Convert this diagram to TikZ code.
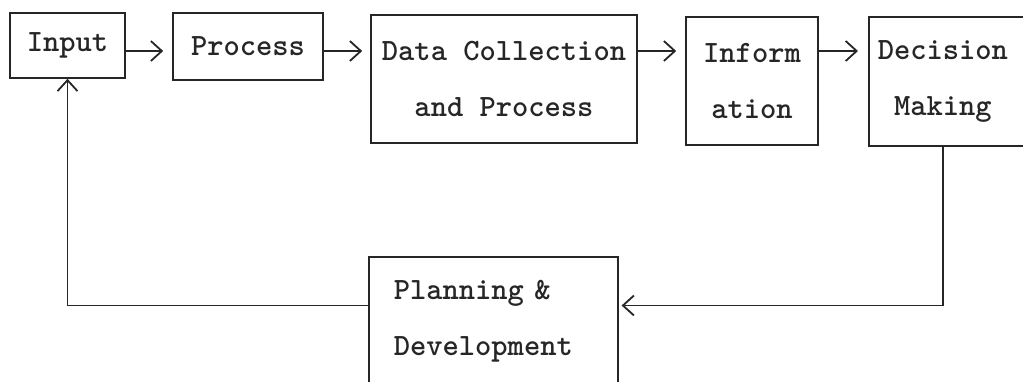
\documentclass[tikz,border=0pt]{standalone}
\usepackage{xcolor}
\usepackage{tikz}
\usetikzlibrary{arrows.meta}

\begin{document}
\begin{tikzpicture}[x=1pt, y=-1pt, line width=1.6pt, black!85,
    box/.style={rectangle, draw, align=center, inner sep=0pt, font=\ttfamily\bfseries\fontsize{31}{56}\selectfont},
    barb/.style={-{Straight Barb[length=11pt, width=20pt, line width=1.8pt]}}]
        \useasboundingbox (0,0) rectangle (1023,381);
        \node at (67.5,45.5) [box, minimum width=115pt, minimum height=65pt] (input) {Input};
        \node at (248,46.5) [box, minimum width=150pt, minimum height=67pt] (process) {Process};
        \node at (504,79) [box, minimum width=266pt, minimum height=128pt] (collect) {Data Collection\\and Process};
        \node at (752,81) [box, minimum width=132pt, minimum height=128pt] (info) {Inform\\ation};
        \node at (868,81.5) [box, anchor=west, align=left, inner xsep=9pt, text width=160pt, minimum height=129pt] (decide) {Decision\\\phantom{M}Making};
        \node at (368,321) [box, anchor=west, align=left, inner xsep=25pt, text width=199pt, minimum height=128pt] (plan) {Planning \&\\Development};
        \coordinate (lane) at (0,51);
        \coordinate (drop) at (943,0);
        \coordinate (loop) at (0,305.5);
        \draw (input.east |- lane)[barb, shorten >=9pt] -- (process.west |- lane);
        \draw (process.east |- lane)[barb, shorten >=8pt] -- (collect.west |- lane);
        \draw (collect.east |- lane)[barb, shorten >=9pt] -- (info.west |- lane);
        \draw (info.east |- lane)[barb, shorten >=10pt] -- (decide.west |- lane);
        \draw (decide.south -| drop)[barb, shorten >=3pt] |- (plan.east |- loop);
        \draw (plan.west |- loop)[barb] -| (input.south);
    \end{tikzpicture}
\end{document}
